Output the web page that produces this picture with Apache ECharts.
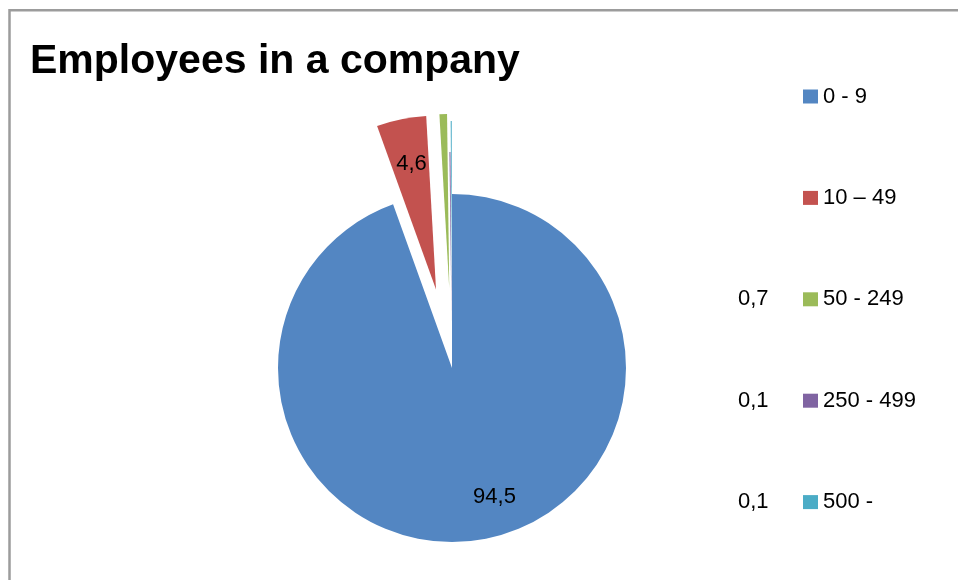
<!DOCTYPE html>
<html>
<head>
<meta charset="utf-8">
<script src="https://cdn.jsdelivr.net/npm/echarts@6/dist/echarts.min.js"></script>
<style>
  html, body { margin: 0; padding: 0; background: #ffffff; }
  #chart { width: 958px; height: 580px; }
</style>
</head>
<body>
<div id="chart"></div>
<script>
// ---- data ----
const titleText = 'Employees in a company';
const categories = ['0 - 9', '10 – 49', '50 - 249', '250 - 499', '500 -'];
const values = [94.5, 4.6, 0.7, 0.1, 0.1];

// ---- styling ----
const colors = ['#5386C2', '#C3524F', '#9BBB59', '#8064A2', '#4BACC6'];
const explode = [0, 80, 80, 42, 73];              // px offset of each slice
const labelInside = [true, true, false, false, false];
const labelOffsets = [[27, 40], [5, -39], [0, 0], [0, 0], [0, 0]];
const FONT = "'Liberation Sans', Arial, sans-serif";

const fmt = v => String(v).replace('.', ',');

const chart = echarts.init(document.getElementById('chart'), null, { renderer: 'canvas' });

const series = categories.map((cat, i) => ({
  type: 'pie',
  name: 's' + i,
  center: [452, 368],
  radius: [0, 174],
  startAngle: 90,
  clockwise: true,
  animation: false,
  avoidLabelOverlap: false,
  selectedMode: 'single',
  selectedOffset: explode[i],
  emphasis: { disabled: true },
  labelLine: { show: false },
  itemStyle: { borderWidth: 0 },
  data: categories.map((c, j) => {
    const lbl = {
      show: j === i && labelInside[j],
      position: 'inside',
      formatter: p => fmt(p.value),
      color: '#000',
      fontSize: 22,
      fontFamily: FONT,
      offset: labelOffsets[j]
    };
    return {
      name: c,
      value: values[j],
      selected: j === i && explode[i] > 0,
      itemStyle: j === i ? { color: colors[j], borderWidth: 0 } : { color: 'rgba(0,0,0,0)', borderWidth: 0 },
      label: lbl,
      select: { label: lbl, itemStyle: j === i ? { color: colors[j] } : { color: 'rgba(0,0,0,0)' } }
    };
  })
}));

const option = {
  backgroundColor: '#ffffff',
  animation: false,
  title: {
    text: titleText,
    left: 30,
    top: 41,
    padding: 0,
    textStyle: { fontSize: 41, fontWeight: 'bold', fontFamily: FONT, color: '#000' }
  },
  legend: [
    {
      orient: 'vertical',
      left: 803,
      top: 85.5,
      padding: 0,
      itemWidth: 15,
      itemHeight: 14,
      itemGap: 79.4,
      icon: 'rect',
      selectedMode: false,
      data: categories.map((c, j) => ({ name: c, itemStyle: { color: colors[j], opacity: 1 } })),
      textStyle: { fontSize: 22, lineHeight: 22, fontFamily: FONT, color: '#000' }
    },
    {
      orient: 'vertical',
      left: 733,
      top: 85.5,
      padding: 0,
      itemWidth: 0,
      itemHeight: 22,
      itemGap: 79.4,
      icon: 'rect',
      selectedMode: false,
      data: categories.map(c => ({ name: c, itemStyle: { color: 'rgba(0,0,0,0)', opacity: 0 } })),
      formatter: name => {
        const j = categories.indexOf(name);
        return labelInside[j] ? ' ' : fmt(values[j]);
      },
      textStyle: { fontSize: 22, lineHeight: 22, fontFamily: FONT, color: '#000' }
    }
  ],
  graphic: [
    {
      type: 'rect',
      shape: { x: 9.5, y: 10.3, width: 1200, height: 1200 },
      style: { fill: 'none', stroke: '#9c9c9c', lineWidth: 2.5 },
      silent: true,
      z: -1
    }
  ],
  series: series
};

chart.setOption(option);
</script>
</body>
</html>
